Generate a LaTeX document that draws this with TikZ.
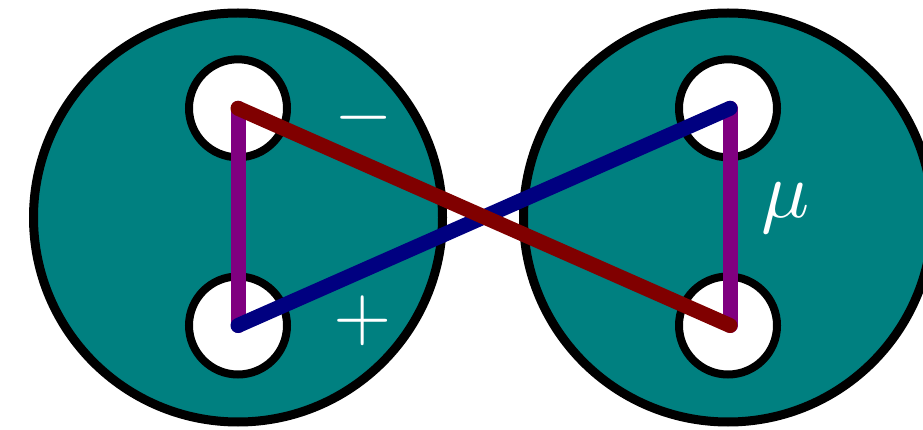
\documentclass[tikz,border=0pt]{standalone}
\definecolor{tealc}{RGB}{0,128,128}
\definecolor{purplec}{RGB}{128,0,128}
\definecolor{maroonc}{RGB}{128,0,0}
\definecolor{navyc}{RGB}{0,0,128}
\begin{document}
\begin{tikzpicture}[x=1pt,y=-1pt,
  bigdisk/.style={draw=black,fill=tealc,line width=9pt},
  hole/.style={draw=black,fill=white,line width=8pt},
  wire/.style={line width=15pt,line cap=round},
  lbl/.style={text=white,anchor=base,inner sep=0pt}]
\useasboundingbox (0,0) rectangle (923,430);
\clip (0,0) rectangle (923,430);
\draw[bigdisk] (238,217.5) circle[radius=204.5];
\draw[bigdisk] (728,217.5) circle[radius=204.5];
\draw[hole] (238,108.3) circle[radius=49];
\draw[hole] (238,325.5) circle[radius=49];
\draw[hole] (728,108.3) circle[radius=49];
\draw[hole] (728,325.5) circle[radius=49];
\coordinate (LT) at (238,108.3);
\coordinate (LB) at (238,325.5);
\coordinate (RT) at (730,108.3);
\coordinate (RB) at (730,325.5);
\draw[wire,purplec] (LT) -- (LB);
\draw[wire,purplec] (RT) -- (RB);
\draw[wire,navyc] (LB) -- (RT);
\draw[wire,maroonc] (LT) -- (RB);
\node[lbl,scale=7.5] (minus) at (364,136.8) {$-$};
\node[lbl,scale=7.5] (plus) at (363,339.8) {$+$};
\node[lbl,scale=8] (mu) at (786,217.5) {$\mu$};
\end{tikzpicture}
\end{document}
